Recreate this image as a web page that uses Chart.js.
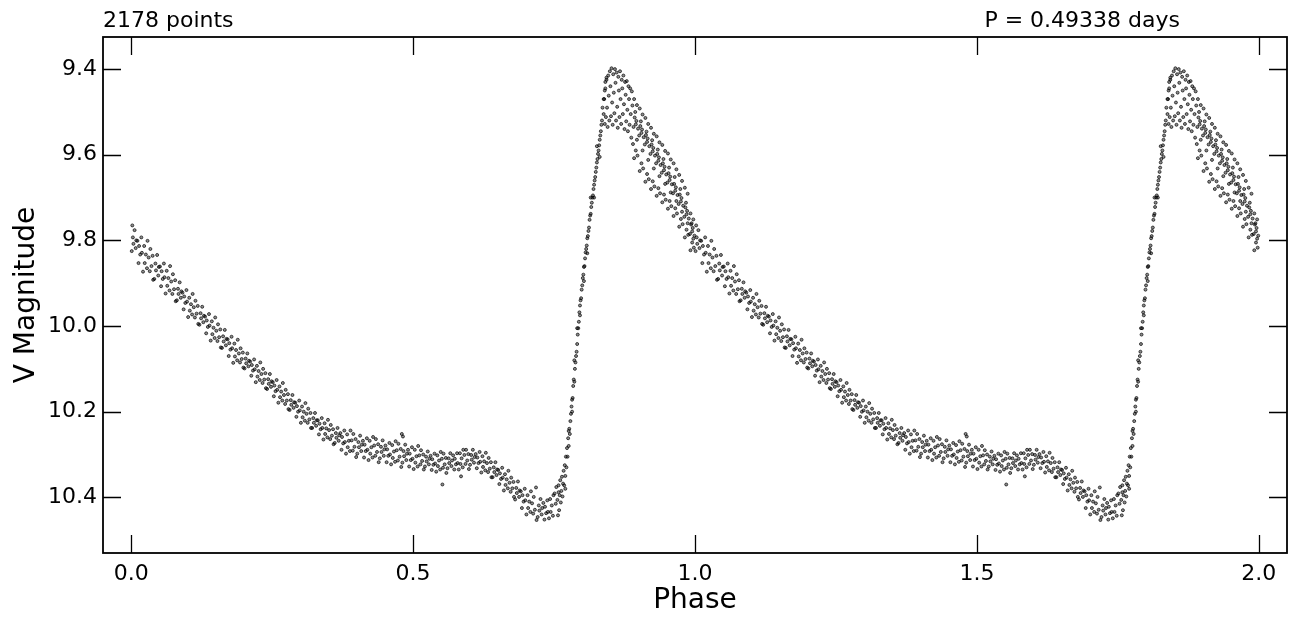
<!DOCTYPE html>
<html>
<head>
<meta charset="utf-8">
<script src="https://cdn.jsdelivr.net/npm/chart.js@4/dist/chart.umd.min.js"></script>
<style>
  html, body { margin: 0; padding: 0; background: #fff; }
  #lc { display: block; }
</style>
</head>
<body>
<canvas id="lc" width="1296" height="619"></canvas>
<script>
// one folded cycle, [phase, V mag]; drawn again at phase + 1
const declinePts = [
  [0.001,9.825],[0.002,9.765],[0.003,9.793],[0.004,9.808],[0.006,9.776],[0.008,9.818],[0.009,9.800],
  [0.011,9.801],[0.013,9.853],[0.014,9.813],[0.016,9.833],[0.018,9.793],[0.019,9.829],
  [0.021,9.873],[0.023,9.813],[0.024,9.853],[0.026,9.833],[0.028,9.865],[0.029,9.801],
  [0.031,9.840],[0.033,9.872],[0.034,9.820],[0.036,9.860],[0.038,9.836],[0.039,9.892],
  [0.041,9.890],[0.043,9.854],[0.044,9.870],[0.046,9.834],[0.048,9.882],[0.049,9.862],
  [0.051,9.861],[0.053,9.907],[0.054,9.872],[0.056,9.890],[0.058,9.854],[0.059,9.886],
  [0.061,9.924],[0.063,9.871],[0.064,9.906],[0.066,9.888],[0.068,9.917],[0.069,9.860],
  [0.071,9.896],[0.073,9.925],[0.074,9.879],[0.076,9.914],[0.078,9.893],[0.079,9.942],
  [0.081,9.940],[0.083,9.913],[0.084,9.925],[0.086,9.898],[0.088,9.934],[0.089,9.919],
  [0.091,9.922],[0.093,9.961],[0.094,9.931],[0.096,9.946],[0.098,9.916],[0.099,9.943],
  [0.101,9.979],[0.103,9.934],[0.104,9.964],[0.106,9.949],[0.108,9.973],[0.109,9.925],
  [0.111,9.956],[0.113,9.980],[0.114,9.941],[0.116,9.971],[0.118,9.953],[0.119,9.995],
  [0.121,9.997],[0.123,9.970],[0.124,9.982],[0.126,9.955],[0.128,9.991],[0.129,9.976],
  [0.131,9.978],[0.133,10.017],[0.134,9.987],[0.136,10.002],[0.138,9.972],[0.139,9.999],
  [0.141,10.034],[0.143,9.989],[0.144,10.019],[0.146,10.004],[0.148,10.028],[0.149,9.980],
  [0.151,10.011],[0.153,10.035],[0.154,9.996],[0.156,10.026],[0.158,10.008],[0.159,10.050],
  [0.161,10.051],[0.163,10.024],[0.164,10.036],[0.166,10.009],[0.168,10.045],[0.169,10.030],
  [0.171,10.031],[0.173,10.070],[0.174,10.040],[0.176,10.055],[0.178,10.025],[0.179,10.052],
  [0.181,10.086],[0.183,10.041],[0.184,10.071],[0.186,10.056],[0.188,10.080],[0.189,10.032],
  [0.191,10.064],[0.193,10.085],[0.194,10.052],[0.196,10.077],[0.198,10.062],[0.199,10.097],
  [0.201,10.099],[0.203,10.076],[0.204,10.087],[0.206,10.064],[0.208,10.094],[0.209,10.081],
  [0.211,10.083],[0.213,10.116],[0.214,10.091],[0.216,10.104],[0.218,10.078],[0.219,10.101],
  [0.221,10.131],[0.223,10.093],[0.224,10.118],[0.226,10.105],[0.228,10.126],[0.229,10.085],
  [0.231,10.112],[0.233,10.133],[0.234,10.100],[0.236,10.125],[0.238,10.110],[0.239,10.145],
  [0.241,10.147],[0.243,10.124],[0.244,10.135],[0.246,10.112],[0.248,10.142],[0.249,10.129],
  [0.251,10.131],[0.253,10.164],[0.254,10.139],[0.256,10.152],[0.258,10.126],[0.259,10.149],
  [0.261,10.179],[0.263,10.141],[0.264,10.166],[0.266,10.153],[0.268,10.174],[0.269,10.133],
  [0.271,10.161],[0.273,10.182],[0.274,10.149],[0.276,10.174],[0.278,10.159],[0.279,10.194],
  [0.281,10.196],[0.283,10.173],[0.284,10.184],[0.286,10.161],[0.288,10.191],[0.289,10.178],
  [0.291,10.179],[0.293,10.212],[0.294,10.187],[0.296,10.200],[0.298,10.174],[0.299,10.197],
  [0.301,10.226],[0.303,10.188],[0.304,10.213],[0.306,10.200],[0.308,10.221],[0.309,10.180],
  [0.311,10.205],[0.313,10.226],[0.314,10.193],[0.316,10.218],[0.318,10.203],[0.319,10.238],
  [0.321,10.238],[0.323,10.215],[0.324,10.226],[0.326,10.203],[0.328,10.233],[0.329,10.220],
  [0.331,10.220],[0.333,10.253],[0.334,10.228],[0.336,10.241],[0.338,10.215],[0.339,10.238],
  [0.341,10.265],[0.343,10.227],[0.344,10.252],[0.346,10.239],[0.348,10.260],[0.349,10.219],
  [0.351,10.243],[0.353,10.264],[0.354,10.231],[0.356,10.256],[0.358,10.241],[0.359,10.276],
  [0.361,10.273],[0.363,10.250],[0.364,10.261],[0.366,10.238],[0.368,10.268],[0.369,10.255],
  [0.371,10.250],[0.373,10.289],[0.374,10.259],[0.376,10.274],[0.378,10.244],[0.379,10.271],
  [0.381,10.298],[0.383,10.253],[0.384,10.283],[0.386,10.268],[0.388,10.292],[0.389,10.244],
  [0.391,10.267],[0.393,10.291],[0.394,10.252],[0.396,10.282],[0.398,10.264],[0.399,10.306],
  [0.401,10.298],[0.403,10.271],[0.404,10.283],[0.406,10.256],[0.408,10.292],[0.409,10.277],
  [0.411,10.268],[0.413,10.307],[0.414,10.277],[0.416,10.292],[0.418,10.262],[0.419,10.289],
  [0.421,10.313],[0.423,10.268],[0.424,10.298],[0.426,10.283],[0.428,10.307],[0.429,10.259],
  [0.431,10.279],[0.433,10.303],[0.434,10.264],[0.436,10.294],[0.438,10.276],[0.439,10.318],
  [0.441,10.309],[0.443,10.282],[0.444,10.294],[0.446,10.267],[0.448,10.303],[0.449,10.288],
  [0.451,10.279],[0.453,10.318],[0.454,10.288],[0.456,10.303],[0.458,10.273],[0.459,10.300],
  [0.461,10.323],[0.463,10.278],[0.464,10.308],[0.466,10.293],[0.468,10.317],[0.469,10.269],
  [0.471,10.290],[0.473,10.314],[0.474,10.275],[0.476,10.305],[0.478,10.287],[0.479,10.329],
  [0.480,10.252],[0.481,10.319],[0.482,10.258],[0.483,10.292],[0.484,10.304],[0.486,10.277],[0.488,10.313],[0.489,10.298],
  [0.491,10.289],[0.493,10.328],[0.494,10.298],[0.496,10.313],[0.498,10.283],[0.499,10.310],
  [0.501,10.334],[0.503,10.289],[0.504,10.319],[0.506,10.304],[0.508,10.328],[0.509,10.280],
  [0.511,10.302],[0.513,10.323],[0.514,10.290],[0.516,10.315],[0.518,10.300],[0.519,10.335],
  [0.521,10.328],[0.523,10.305],[0.524,10.316],[0.526,10.293],[0.528,10.323],[0.529,10.310],
  [0.531,10.303],[0.533,10.336],[0.534,10.311],[0.536,10.324],[0.538,10.298],[0.539,10.321],
  [0.541,10.340],[0.543,10.302],[0.544,10.327],[0.546,10.314],[0.548,10.335],[0.549,10.294],
  [0.551,10.310],[0.552,10.370],[0.553,10.331],[0.554,10.298],[0.556,10.323],[0.558,10.308],[0.559,10.343]
];

const bumpPts = [
  [0.561,10.332],[0.563,10.309],[0.564,10.320],[0.566,10.297],[0.568,10.327],[0.569,10.314],
  [0.571,10.302],[0.573,10.335],[0.574,10.310],[0.576,10.323],[0.578,10.297],[0.579,10.320],
  [0.581,10.335],[0.583,10.297],[0.584,10.322],[0.585,10.351],[0.586,10.309],[0.588,10.330],[0.589,10.289],
  [0.591,10.301],[0.593,10.322],[0.594,10.289],[0.596,10.314],[0.598,10.299],[0.599,10.334],
  [0.601,10.324],[0.603,10.301],[0.604,10.312],[0.606,10.289],[0.608,10.319],[0.609,10.306],
  [0.611,10.299],[0.613,10.332],[0.614,10.307],[0.616,10.320],[0.618,10.294],[0.619,10.317],
  [0.621,10.342],[0.623,10.304],[0.624,10.329],[0.626,10.316],[0.628,10.337],[0.629,10.296],
  [0.631,10.320],[0.633,10.341],[0.634,10.308],[0.636,10.333],[0.638,10.318],[0.639,10.353],
  [0.641,10.353],[0.643,10.330],[0.644,10.341],[0.646,10.318],[0.648,10.348],[0.649,10.335],
  [0.651,10.336],[0.653,10.369],[0.654,10.344],[0.656,10.357],[0.658,10.331],[0.659,10.354],
  [0.661,10.384],[0.663,10.346],[0.664,10.371],[0.666,10.358],[0.668,10.379],[0.669,10.338],
  [0.671,10.366],[0.673,10.387],[0.674,10.354],[0.676,10.379],[0.678,10.364],[0.679,10.399],
  [0.681,10.405],[0.683,10.378],[0.684,10.390],[0.686,10.363],[0.688,10.399],[0.689,10.384],
  [0.691,10.386],[0.693,10.425],[0.694,10.395],[0.696,10.410],[0.698,10.380],[0.699,10.407],
  [0.701,10.440],[0.703,10.395],[0.704,10.425],[0.706,10.410],[0.708,10.434],[0.709,10.386],
  [0.711,10.414],[0.713,10.438],[0.714,10.399],[0.716,10.429],[0.718,10.377],[0.719,10.453],
  [0.721,10.446],[0.723,10.419],[0.724,10.431],[0.726,10.404],[0.728,10.440],[0.729,10.425],
  [0.731,10.413],[0.733,10.452],[0.734,10.422],[0.736,10.437],[0.738,10.407],[0.739,10.434],
  [0.741,10.449],[0.743,10.404],[0.744,10.434],[0.746,10.419],[0.748,10.443],[0.749,10.395],
  [0.751,10.391],[0.753,10.415],[0.754,10.376],[0.756,10.406],[0.757,10.442],[0.758,10.388],[0.759,10.430]
];

const risePts = [
  [0.758,10.372],[0.760,10.395],[0.761,10.360],[0.762,10.412],[0.763,10.385],[0.764,10.352],
  [0.765,10.398],[0.766,10.368],[0.767,10.338],[0.768,10.372],[0.769,10.325],[0.770,10.350],
  [0.771,10.305],[0.772,10.330],[0.773,10.285],[0.774,10.305],[0.775,10.262],[0.776,10.280],
  [0.777,10.240],[0.778,10.252],[0.779,10.222],[0.780,10.205],[0.781,10.188],[0.782,10.172],
  [0.783,10.168],[0.784,10.140],[0.785,10.125],[0.786,10.130],[0.787,10.100],[0.788,10.085],
  [0.789,10.070],[0.790,10.060],[0.791,10.042],[0.792,10.020],[0.793,10.005],[0.794,9.990],
  [0.795,9.968],[0.796,9.952],[0.797,9.940],[0.798,9.935],[0.799,9.915],[0.800,9.905],
  [0.801,9.888],[0.802,9.880],[0.803,9.862],[0.804,9.860],[0.805,9.842],[0.806,9.828],
  [0.807,9.820],[0.808,9.812],[0.809,9.795],[0.810,9.790],[0.811,9.778],[0.812,9.770],
  [0.813,9.752],[0.814,9.742],[0.815,9.738],[0.816,9.722],[0.817,9.712],[0.818,9.700],
  [0.819,9.695],[0.820,9.680],[0.821,9.670],[0.822,9.660],[0.823,9.652],[0.824,9.640],
  [0.825,9.630],[0.826,9.618],[0.827,9.610],[0.828,9.598],[0.829,9.590],[0.830,9.578],
  [0.831,9.565],[0.832,9.555],[0.833,9.545],[0.834,9.530],[0.835,9.520],
  [0.836,9.490],[0.838,9.470],[0.840,9.450],[0.841,9.430],[0.843,9.420],
  [0.770,10.380],[0.776,10.245],[0.782,10.200],[0.786,10.080],[0.791,10.005],[0.796,9.975],
  [0.803,9.895],[0.809,9.830],[0.815,9.700],[0.821,9.700],[0.826,9.580],[0.831,9.605]
];

const peakPts = [
  [0.838,9.505],[0.839,9.470],[0.840,9.528],[0.841,9.445],[0.842,9.512],[0.843,9.425],
  [0.844,9.490],[0.845,9.535],[0.846,9.415],[0.847,9.462],[0.848,9.520],[0.849,9.405],
  [0.850,9.440],[0.851,9.510],[0.852,9.398],[0.853,9.478],[0.854,9.530],[0.855,9.412],
  [0.856,9.455],[0.857,9.503],[0.858,9.400],[0.859,9.432],[0.860,9.520],[0.861,9.408],
  [0.862,9.488],[0.863,9.537],[0.864,9.418],[0.865,9.450],[0.866,9.512],[0.867,9.405],
  [0.868,9.470],[0.869,9.528],[0.870,9.425],[0.871,9.445],[0.872,9.505],[0.873,9.415],
  [0.874,9.482],[0.875,9.540],[0.876,9.430],[0.877,9.460],[0.878,9.522],[0.879,9.428],
  [0.880,9.495],[0.881,9.545],[0.882,9.440],[0.883,9.470],[0.884,9.530],[0.885,9.445],
  [0.886,9.505],[0.887,9.560],[0.888,9.452],[0.889,9.485],[0.890,9.575]
];

const fallPts = [
  [0.892,9.470],[0.897,9.484],[0.891,9.535],[0.893,9.513],[0.895,9.529],[0.896,9.521],[0.899,9.539],[0.892,9.608],[0.895,9.590],[0.898,9.602],[0.894,9.500],[0.897,9.565],
  [0.902,9.492],[0.907,9.506],[0.901,9.555],[0.903,9.533],[0.905,9.549],[0.906,9.541],[0.909,9.559],[0.902,9.638],[0.905,9.620],[0.908,9.632],[0.904,9.522],[0.907,9.590],
  [0.912,9.514],[0.917,9.528],[0.911,9.576],[0.913,9.554],[0.915,9.570],[0.916,9.562],[0.919,9.580],[0.912,9.663],[0.915,9.645],[0.918,9.657],[0.914,9.546],[0.917,9.612],
  [0.922,9.537],[0.927,9.551],[0.921,9.598],[0.923,9.576],[0.925,9.592],[0.926,9.584],[0.929,9.602],[0.922,9.680],[0.925,9.662],[0.928,9.674],[0.924,9.566],[0.927,9.632],
  [0.932,9.557],[0.937,9.571],[0.931,9.620],[0.933,9.598],[0.935,9.614],[0.936,9.606],[0.939,9.624],[0.932,9.696],[0.935,9.678],[0.938,9.690],[0.934,9.588],[0.937,9.650],
  [0.942,9.577],[0.947,9.591],[0.941,9.642],[0.943,9.620],[0.945,9.636],[0.946,9.628],[0.949,9.646],[0.942,9.711],[0.945,9.693],[0.948,9.705],[0.944,9.610],[0.947,9.668],
  [0.952,9.597],[0.957,9.611],[0.951,9.665],[0.953,9.643],[0.955,9.659],[0.956,9.651],[0.959,9.669],[0.952,9.726],[0.955,9.708],[0.958,9.720],[0.954,9.630],[0.957,9.688],
  [0.962,9.620],[0.967,9.634],[0.961,9.690],[0.963,9.668],[0.965,9.684],[0.966,9.676],[0.969,9.694],[0.962,9.743],[0.965,9.725],[0.968,9.737],[0.964,9.652],[0.967,9.708],
  [0.972,9.647],[0.977,9.661],[0.971,9.715],[0.973,9.693],[0.975,9.709],[0.976,9.701],[0.979,9.719],[0.972,9.768],[0.975,9.750],[0.978,9.762],[0.974,9.680],[0.977,9.733],
  [0.982,9.677],[0.987,9.691],[0.981,9.745],[0.983,9.723],[0.985,9.739],[0.986,9.731],[0.989,9.749],[0.982,9.793],[0.985,9.775],[0.988,9.787],[0.984,9.712],[0.987,9.760],
  [0.992,9.737],[0.997,9.751],[0.991,9.785],[0.993,9.763],[0.995,9.779],[0.996,9.771],[0.999,9.789],[0.992,9.823],[0.995,9.805],[0.998,9.817],[0.994,9.760],[0.997,9.796]
];

const xTicks = [0.0, 0.5, 1.0, 1.5, 2.0];
const yTicks = [9.4, 9.6, 9.8, 10.0, 10.2, 10.4];
const leftNote = '2178 points';
const rightNote = 'P = 0.49338 days';

const cycle = [].concat(declinePts, bumpPts, risePts, peakPts, fallPts);
// the folded cycle is shown twice, as in the original plot
const folded = cycle.map(([p, m]) => ({ x: p, y: m }))
  .concat(cycle.map(([p, m]) => ({ x: p + 1, y: m })));

const FONT = 'DejaVu Sans';

// inward ticks on all four sides, the box, and the two notes above it
const frameTicks = {
  id: 'frameTicks',
  afterDatasetsDraw(chart) {
    const { ctx, chartArea: a, scales: { x, y } } = chart;
    const len = 18;
    ctx.save();
    ctx.strokeStyle = '#000';
    ctx.lineWidth = 1.3;
    ctx.beginPath();
    xTicks.forEach(v => {
      const px = Math.round(x.getPixelForValue(v)) + 0.5;
      ctx.moveTo(px, a.bottom); ctx.lineTo(px, a.bottom - len);
      ctx.moveTo(px, a.top); ctx.lineTo(px, a.top + len);
    });
    yTicks.forEach(v => {
      const py = Math.round(y.getPixelForValue(v)) + 0.5;
      ctx.moveTo(a.left, py); ctx.lineTo(a.left + len, py);
      ctx.moveTo(a.right, py); ctx.lineTo(a.right - len, py);
    });
    ctx.stroke();
    ctx.lineWidth = 1.8;
    ctx.strokeRect(a.left, a.top, a.right - a.left, a.bottom - a.top);

    ctx.fillStyle = '#000';
    ctx.font = '22px "' + FONT + '"';
    ctx.textBaseline = 'alphabetic';
    ctx.textAlign = 'left';
    ctx.fillText(leftNote, a.left, 27);
    ctx.textAlign = 'right';
    ctx.fillText(rightNote, 1180, 27);
    ctx.restore();
  }
};

new Chart(document.getElementById('lc'), {
  type: 'scatter',
  data: {
    datasets: [{
      data: folded,
      pointRadius: 1.5,
      pointBorderWidth: 0.8,
      pointBorderColor: 'rgba(0,0,0,0.85)',
      pointBackgroundColor: 'rgba(0,0,0,0.45)',
      pointHoverRadius: 1.5
    }]
  },
  options: {
    responsive: false,
    animation: false,
    events: [],
    layout: { padding: { top: 37, right: 9, left: 0, bottom: 0 } },
    plugins: { legend: { display: false }, tooltip: { enabled: false } },
    scales: {
      x: {
        type: 'linear',
        min: -0.05,
        max: 2.05,
        afterBuildTicks: s => { s.ticks = xTicks.map(v => ({ value: v })); },
        afterFit: s => { s.height = 66; },
        grid: { display: false, drawTicks: false },
        border: { display: false },
        ticks: {
          padding: 8,
          color: '#000',
          font: { family: FONT, size: 22 },
          callback: v => Number(v).toFixed(1)
        },
        title: {
          display: true,
          text: 'Phase',
          color: '#000',
          font: { family: FONT, size: 28, lineHeight: 1.2 },
          padding: { top: 0, bottom: 1 }
        }
      },
      y: {
        type: 'linear',
        reverse: true,
        min: 9.325,
        max: 10.53,
        afterBuildTicks: s => { s.ticks = yTicks.map(v => ({ value: v })); },
        afterFit: s => { s.width = 103; },
        grid: { display: false, drawTicks: false },
        border: { display: false },
        ticks: {
          padding: 6,
          color: '#000',
          font: { family: FONT, size: 22 },
          callback: v => Number(v).toFixed(1)
        },
        title: {
          display: true,
          text: 'V Magnitude',
          color: '#000',
          font: { family: FONT, size: 28, lineHeight: 1.2 },
          padding: { top: 10, bottom: 0 }
        }
      }
    }
  },
  plugins: [frameTicks]
});
</script>
</body>
</html>
